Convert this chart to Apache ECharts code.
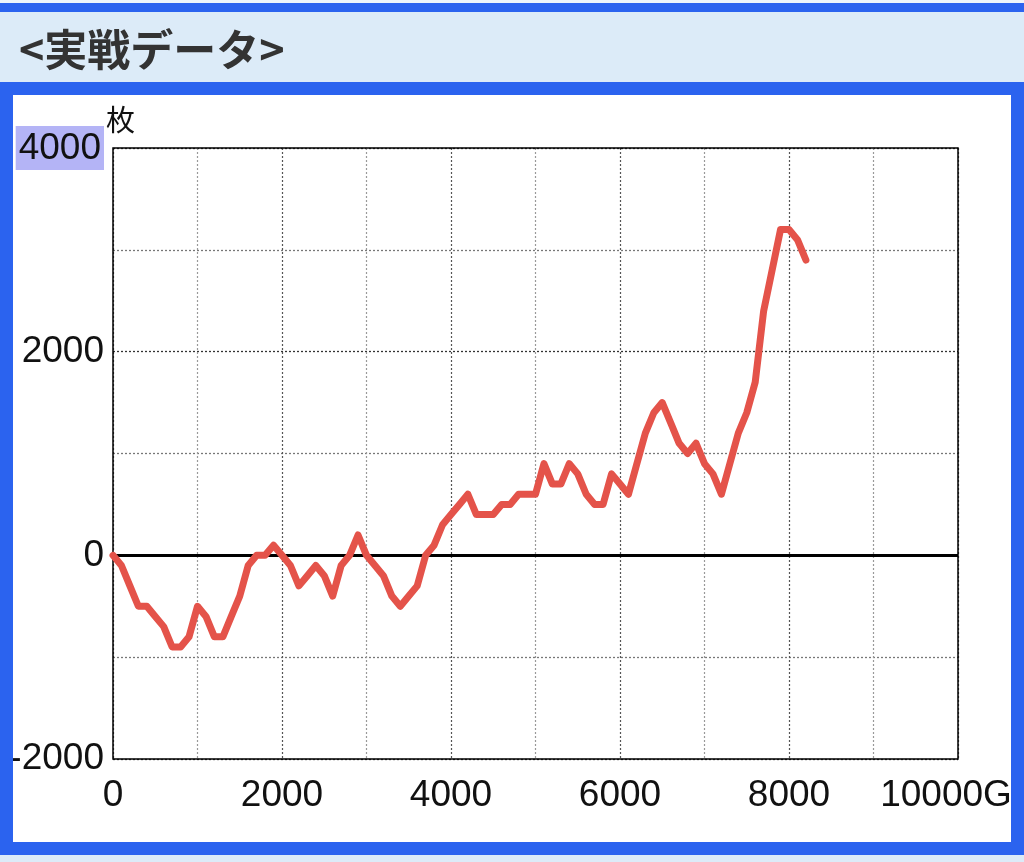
<!DOCTYPE html>
<html>
<head>
<meta charset="utf-8">
<script src="https://cdn.jsdelivr.net/npm/echarts@6/dist/echarts.min.js"></script>
<style>
html,body{margin:0;padding:0;background:#dcebf8;}
#c{width:1024px;height:862px;}
</style>
</head>
<body>
<div id="c"></div>
<script>
const titleText = '<実戦データ>';
const yUnit = '枚';
const games = [0,100,200,300,400,500,600,700,800,900,1000,1100,1200,1300,1400,1500,1600,1700,1800,1900,
  2000,2100,2200,2300,2400,2500,2600,2700,2800,2900,3000,3100,3200,3300,3400,3500,3600,3700,3800,3900,
  4000,4100,4200,4300,4400,4500,4600,4700,4800,4900,5000,5100,5200,5300,5400,5500,5600,5700,5800,5900,
  6000,6100,6200,6300,6400,6500,6600,6700,6800,6900,7000,7100,7200,7300,7400,7500,7600,7700,7800,7900,
  8000,8100,8200];
const coins = [0,-100,-300,-500,-500,-600,-700,-900,-900,-800,-500,-600,-800,-800,-600,-400,-100,0,0,100,
  0,-100,-300,-200,-100,-200,-400,-100,0,200,0,-100,-200,-400,-500,-400,-300,0,100,300,
  400,500,600,400,400,400,500,500,600,600,600,900,700,700,900,800,600,500,500,800,
  700,600,900,1200,1400,1500,1300,1100,1000,1100,900,800,600,900,1200,1400,1700,2400,2800,3200,
  3200,3100,2900];
const xTicks = [0,2000,4000,6000,8000,10000];
const xLastLabel = '10000G';
const yTicks = [-2000,0,2000,4000];
const highlightedYTick = 4000;

const chart = echarts.init(document.getElementById('c'), null, {renderer:'canvas'});
const BLUE = '#2b63ef';
const FONT = 'Liberation Sans';
const option = {
  animation:false,
  backgroundColor:'#dcebf8',
  title:{
    text:titleText, left:14, top:23,
    textStyle:{fontSize:43, fontWeight:'bold', color:'#333', fontFamily:'Noto Sans CJK JP'}
  },
  graphic:[
    {type:'rect', shape:{x:0,y:0,width:1024,height:3}, style:{fill:'#eef5fb'}, z:-10},
    {type:'rect', shape:{x:0,y:3,width:1024,height:9}, style:{fill:BLUE}, z:-10},
    {type:'rect', shape:{x:0,y:82,width:1024,height:773}, style:{fill:BLUE}, z:-10},
    {type:'rect', shape:{x:12,y:95,width:999,height:747}, style:{fill:'#ffffff'}, z:-9},
    {type:'rect', shape:{x:0,y:82,width:13,height:773}, style:{fill:BLUE}, z:100, zlevel:1},
    {type:'rect', shape:{x:1011,y:82,width:13,height:773}, style:{fill:BLUE}, z:100, zlevel:1}
  ],
  grid:{left:113, right:66, top:148, bottom:103, show:true, borderColor:'#000', borderWidth:1.5, backgroundColor:'transparent', z:5},
  xAxis:{
    type:'value', min:0, max:10000, interval:1000,
    axisLine:{show:false, onZero:false}, axisTick:{show:false},
    axisLabel:{
      margin:18, fontSize:37, color:'#111', fontFamily:FONT,
      formatter:function(v){
        if(xTicks.indexOf(v) < 0) return '';
        if(v === 10000) return '{g|' + xLastLabel + '}';
        return String(v);
      },
      rich:{g:{fontSize:37, color:'#111', fontFamily:FONT, padding:[0,24,0,0]}}
    },
    splitLine:{show:true, lineStyle:{color:['#555','#999'], type:[2,2], width:1.2}}
  },
  yAxis:{
    type:'value', min:-2000, max:4000, interval:1000,
    name:yUnit, nameLocation:'end', nameGap:14, nameMoveOverlap:false,
    nameTextStyle:{fontSize:29, color:'#111', fontFamily:'Noto Sans CJK JP', align:'left', verticalAlign:'bottom', padding:[0,0,0,-7]},
    axisLine:{show:false}, axisTick:{show:false},
    axisLabel:{
      margin:9, fontSize:37, color:'#111', fontFamily:FONT,
      formatter:function(v){
        if(yTicks.indexOf(v) < 0) return '';
        if(v === highlightedYTick) return '{hl|' + v + '}';
        return String(v);
      },
      rich:{hl:{fontSize:37, color:'#111', fontFamily:FONT, backgroundColor:'#b4b4f6', padding:[4,3,3,3]}}
    },
    splitLine:{show:true, lineStyle:{color:['#333','#777'], type:[2,2], width:1.3}}
  },
  series:[{
    type:'line',
    data:games.map((g,i)=>[g, coins[i]]),
    symbol:'none',
    lineStyle:{color:'#e4534a', width:7, join:'round', cap:'round'},
    z:10,
    markLine:{
      silent:true, symbol:'none', label:{show:false},
      lineStyle:{color:'#000', type:'solid', width:2.8},
      data:[{yAxis:0}],
      z:3
    }
  }]
};
chart.setOption(option);
</script>
</body>
</html>
